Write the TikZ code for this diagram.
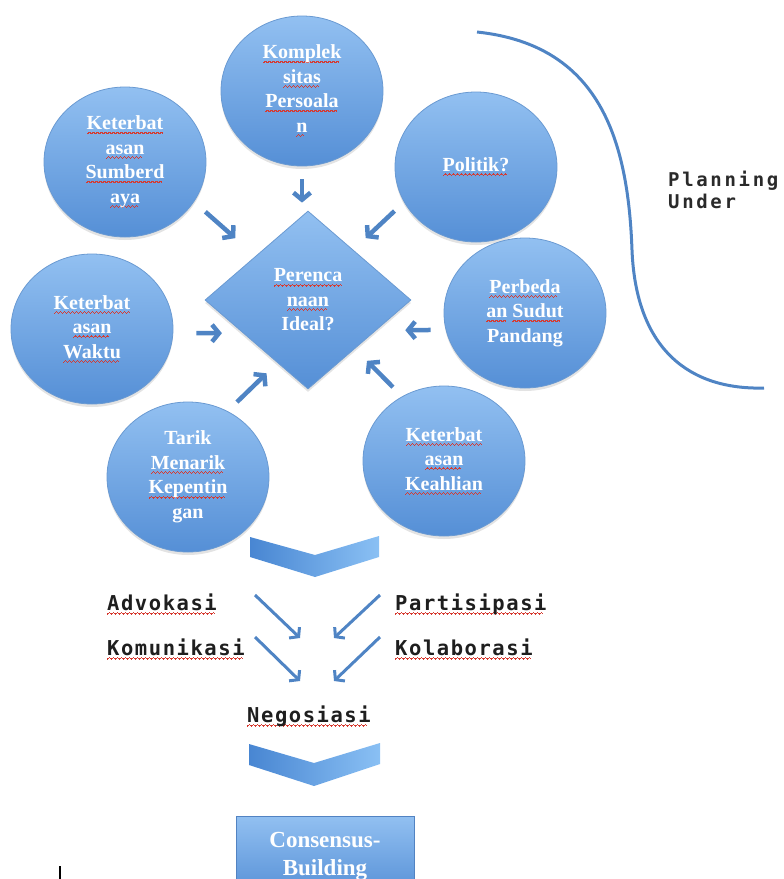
\documentclass[tikz,border=0pt]{standalone}
\usepackage{fontspec}
\usetikzlibrary{shapes.geometric,arrows.meta,shadows}
\setmainfont{Liberation Serif}
\newfontfamily\lowmono[LetterSpace=7.6]{DejaVu Sans Mono}
\newfontfamily\planmono[LetterSpace=14]{DejaVu Sans Mono}

\definecolor{fillTop}{HTML}{92C0F1}
\definecolor{fillBot}{HTML}{558FD6}
\definecolor{rim}{HTML}{6A9AD2}
\definecolor{arrowblue}{HTML}{4F84C4}
\definecolor{wavered}{HTML}{D63A30}
\definecolor{chevDark}{HTML}{4886D2}
\definecolor{chevLight}{HTML}{8AC0F4}
\definecolor{boxrim}{HTML}{5283C2}
\definecolor{ink}{HTML}{1E1E1E}
\definecolor{softink}{HTML}{2A2A2A}

% red wavy underline (spell-check style), built from small rule steps
\newsavebox\wordbox
\newcommand\wavestep{\hbox{%
  \rule[-4.6pt]{1pt}{1.2pt}\rule[-3.8pt]{1pt}{1.2pt}%
  \rule[-3.0pt]{1pt}{1.2pt}\rule[-3.8pt]{1pt}{1.2pt}}}
\newcommand\rw[1]{\sbox\wordbox{#1}%
  \rlap{\color{wavered}\hbox to\wd\wordbox{\leaders\wavestep\hfill}}%
  \usebox\wordbox}

\begin{document}
\begin{tikzpicture}[x=1pt,y=-1pt,
  bubble/.style={ellipse, minimum width=162pt, minimum height=150pt, inner sep=0pt,
    top color=fillTop, bottom color=fillBot, draw=rim, line width=0.8pt,
    drop shadow={opacity=0.22, shadow xshift=0pt, shadow yshift=-3pt},
    text=white, align=center, font=\fontsize{20}{24.5}\selectfont\bfseries},
  decision/.style={diamond, minimum width=206pt, minimum height=178pt, inner sep=0pt,
    top color=fillTop, bottom color=fillBot, draw=rim, line width=0.8pt,
    drop shadow={opacity=0.22, shadow xshift=0pt, shadow yshift=-3pt},
    text=white, align=center, font=\fontsize{20}{24.5}\selectfont\bfseries},
  goalbox/.style={rectangle, minimum width=178pt, minimum height=80pt, inner sep=0pt,
    top color=fillTop, bottom color=fillBot, draw=boxrim, line width=1pt,
    text=white, align=center, font=\fontsize{23}{28}\selectfont\bfseries},
  feeder/.style={draw=arrowblue, line width=4.5pt, -{Straight Barb[length=7pt,width=17pt]}},
  pointer/.style={draw=arrowblue, line width=3pt, -{Straight Barb[length=6pt,width=15pt]}},
  label/.style={inner sep=0pt, anchor=base west, text=ink,
    font=\lowmono\fontsize{20.5}{24}\selectfont\bfseries},
  chevron/.style={left color=chevDark, right color=chevLight, draw=none},
  bracket/.style={draw=arrowblue, line width=3pt}
]
\useasboundingbox (0,0) rectangle (784,879);

% central question
\node[decision] (ideal) at (308,300) {\rw{Perenca}\\ \rw{naan}\\ Ideal?};

% surrounding factors
\node[bubble] (komplek)  at (302,91)  {\rw{Komplek}\\ \rw{sitas}\\ \rw{Persoala}\\ \rw{n}};
\node[bubble] (sumber)   at (125,162) {\rw{Keterbat}\\ \rw{asan}\\ \rw{Sumberd}\\ \rw{aya}};
\node[bubble] (politik)  at (476,167) {\rw{Politik?}};
\node[bubble] (waktu)    at (92,329)  {\rw{Keterbat}\\ \rw{asan}\\ \rw{Waktu}};
\node[bubble] (perbeda)  at (525,313) {\rw{Perbeda}\\ \rw{an} \rw{Sudut}\\ Pandang};
\node[bubble] (tarik)    at (188,477) {Tarik\\ \rw{Menarik}\\ \rw{Kepentin}\\ gan};
\node[bubble] (keahlian) at (444,461) {\rw{Keterbat}\\ \rw{asan}\\ \rw{Keahlian}};

% factor arrows into the diamond
\draw[feeder, shorten <=13pt, shorten >=8pt] (komplek.south) -- (komplek.south |- ideal.north);
\draw[feeder, shorten <=15pt, shorten >=27pt] (sumber.-30) -- (ideal.140);
\draw[feeder, shorten <=13pt, shorten >=17pt] (politik.-154) -- (ideal.48);
\draw[feeder, shorten <=23pt, shorten >=21pt] (waktu.-3) -- (ideal.-153);
\draw[feeder, shorten <=15pt, shorten >=29pt] (perbeda.-168) -- (ideal.-24);
\draw[feeder, shorten <=13pt, shorten >=15pt] (tarik.59) -- (ideal.-116);
\draw[feeder, shorten <=13pt, shorten >=17pt] (keahlian.123) -- (ideal.-46);

% "Planning Under" bracket
\draw[bracket] (477,32) .. controls (600,45) and (628,140) .. (632,250)
  .. controls (636,350) and (690,390) .. (764,388);
\node[inner sep=0pt, anchor=base west, align=left, text=softink,
  font=\planmono\fontsize{19}{22}\selectfont\bfseries] (planning) at (668,208) {Planning\\Under};

% first chevron
\path[chevron] (250,537) -- (315,555) -- (379,536) -- (379,557) -- (315,577) -- (250,557) -- cycle;

% process labels
\node[label] (advokasi)    at (107,610) {\rw{Advokasi}};
\node[label] (komunikasi)  at (107,655) {\rw{Komunikasi}};
\node[label] (partisipasi) at (395,610) {\rw{Partisipasi}};
\node[label] (kolaborasi)  at (395,655) {\rw{Kolaborasi}};
\node[label] (negosiasi)   at (247,722) {\rw{Negosiasi}};

\coordinate (adv1) at (255,595);  \coordinate (adv2) at (300,638);
\coordinate (kom1) at (255,637);  \coordinate (kom2) at (300,681);
\coordinate (par1) at (380,595);  \coordinate (par2) at (334,638);
\coordinate (kol1) at (380,637);  \coordinate (kol2) at (334,681);
\draw[pointer] (adv1) -- (adv2);
\draw[pointer] (kom1) -- (kom2);
\draw[pointer] (par1) -- (par2);
\draw[pointer] (kol1) -- (kol2);

% second chevron
\path[chevron] (249,744) -- (314,763) -- (380,743) -- (380,764) -- (314,786) -- (249,765) -- cycle;

% outcome
\node[goalbox] (consensus) at (325,856) {Consensus-\\Building};

% text cursor
\draw[line width=1.3pt] (60,866) -- (60,879);
\end{tikzpicture}
\end{document}
